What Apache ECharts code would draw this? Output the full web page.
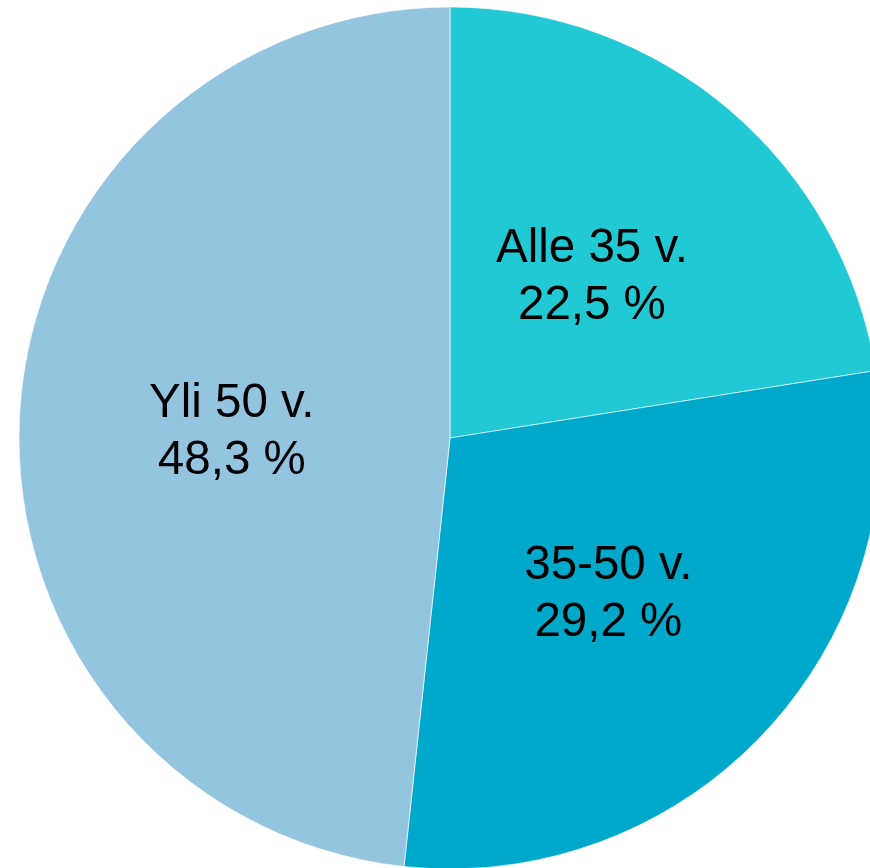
<!DOCTYPE html>
<html>
<head>
<meta charset="utf-8">
<script src="https://cdn.jsdelivr.net/npm/echarts@6/dist/echarts.min.js"></script>
<style>html,body{margin:0;padding:0;background:#fff}#c{width:870px;height:868px}</style>
</head>
<body>
<div id="c"></div>
<script>
const categories = ['Alle 35 v.', '35-50 v.', 'Yli 50 v.'];
const values = [22.5, 29.2, 48.3];
const colors = ['#21C9D4', '#00A9CB', '#94C5E0'];

const chart = echarts.init(document.getElementById('c'), null, {renderer: 'canvas'});
chart.setOption({
  animation: false,
  series: [{
    type: 'pie',
    center: [450, 438],
    radius: [0, 431],
    startAngle: 90,
    clockwise: true,
    silent: true,
    itemStyle: {borderColor: 'rgba(255,255,255,0.6)', borderWidth: 1},
    label: {
      show: true,
      position: 'inside',
      fontFamily: 'Liberation Sans, Arial, sans-serif',
      fontSize: 47.5,
      lineHeight: 57,
      offset: [0, 6],
      color: '#000',
      formatter: p => p.name + '\n' + String(p.value).replace('.', ',') + ' %'
    },
    labelLine: {show: false},
    data: categories.map((c, i) => ({name: c, value: values[i], itemStyle: {color: colors[i]}}))
  }]
});
</script>
</body>
</html>
